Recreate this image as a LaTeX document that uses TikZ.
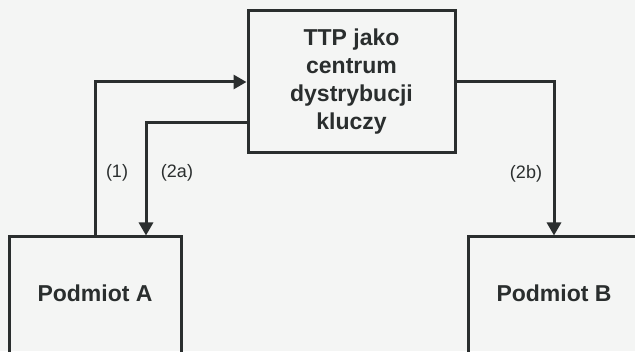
\documentclass[tikz,border=0pt]{standalone}
\usepackage{fontspec}
\setmainfont{Liberation Sans}
\usetikzlibrary{arrows.meta, positioning, calc}
\definecolor{inkgray}{RGB}{42,46,46}
\definecolor{paper}{RGB}{244,245,244}

\begin{document}
\begin{tikzpicture}[
    x=1pt, y=1pt,
    box/.style={rectangle, draw=inkgray, line width=3pt, text=inkgray, align=center, inner sep=0pt, font=\fontsize{23}{28}\selectfont\bfseries},
    party/.style={box, minimum width=172pt, minimum height=138pt, text height=17pt, text depth=25pt},
    lbl/.style={text=inkgray, font=\fontsize{18}{20}\selectfont},
    arrow/.style={-{Triangle[length=13pt, width=14pt]}, line width=3pt, draw=inkgray},
]

% Paper and frame
\fill[paper] (0,0) rectangle (635,351);
\useasboundingbox (0,0) rectangle (635,351);
\clip (0,0) rectangle (635,351);

% Boxes
\node[box, minimum width=207pt, minimum height=142pt] (ttp) at (351.5,269) {TTP jako\\centrum\\dystrybucji\\kluczy};
\node[party] (podA) at (95,45) {Podmiot A};
\node[party] (podB) at (554,45) {Podmiot B};

% Helper points
\coordinate (ttpLow) at ($(ttp.west)+(0,-41)$);
\coordinate (podAin) at ($(podA.north)+(51,0)$);

% Arrows
\draw[arrow] (podA.north) |- (ttp.west);
\draw[arrow] (ttpLow) -| (podAin);
\draw[arrow] (ttp.east) -| (podB.north);

% Labels
\node[lbl] (lab1) at (117,178) {(1)};
\node[lbl] (lab2a) at (177,178) {(2a)};
\node[lbl] (lab2b) at (526,177) {(2b)};

\end{tikzpicture}
\end{document}
